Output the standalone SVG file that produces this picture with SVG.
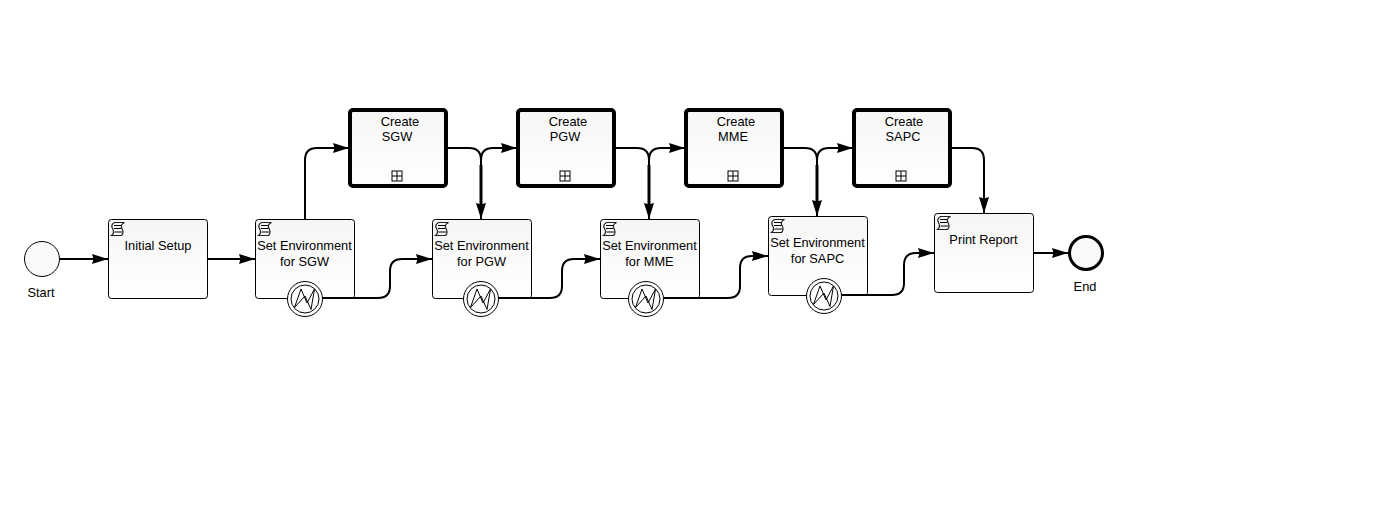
<svg xmlns="http://www.w3.org/2000/svg" width="1394" height="521" viewBox="0 0 1394 521">
<style>
text{font-family:"Liberation Sans",Arial,sans-serif;font-size:12.800px;fill:#000;text-anchor:middle}
.task{fill:url(#g);stroke:#000;stroke-width:1}
.sub{fill:url(#g);stroke:#000;stroke-width:4}
.flow{fill:none;stroke:#000;stroke-width:2;marker-end:url(#arrow)}
.stem{fill:none;stroke:#000;stroke-width:3}
.thin{fill:none;stroke:#000;stroke-width:1}
.script{fill:#f8f8f8;stroke:#222;stroke-width:1.200}
</style>
<defs>
<linearGradient id="g" x1="0" y1="0" x2="0" y2="1"><stop offset="0" stop-color="#f6f6f6"/><stop offset="1" stop-color="#fff"/></linearGradient>
<marker id="arrow" markerUnits="userSpaceOnUse" markerWidth="18" markerHeight="14" refX="16" refY="7" orient="auto"><path d="M0 2 L16 7 L0 12 L1.500 7 Z" fill="#000"/></marker>
<g id="scriptIcon"><path class="script" d="M3.500 0.500 H13.500 C10.500 2 9.500 4 11 6.500 C12.500 9 12.500 11.500 10.500 13.500 H0.500 C3 11.500 3 9 1.500 6.500 C0 4 1 2 3.500 0.500 Z"/><path class="thin" d="M3 3.500 H10 M3 6.500 H10.500 M3.500 10 H11.500"/></g>
<g id="timer"><circle r="17.500" fill="#fff" stroke="#000"/><circle r="14" fill="#fff" stroke="#000"/><path class="thin" d="M-10.500 8.500 L-4 -10 L2 4 L9.500 -10 L6 10.500 L0 -3 Z"/></g>
<g id="plus"><rect x="-5" y="-5" width="10" height="10" fill="#fff" stroke="#000"/><path class="thin" d="M0 -5 V5 M-5 0 H5"/></g>
</defs>
<rect width="1394" height="521" fill="#fff"/>
<g id="start"><circle cx="42" cy="259" r="17.500" fill="#f9f9f9" stroke="#000"/><text x="41" y="297">Start</text></g>
<g id="initial-setup"><rect class="task" x="108.500" y="219.500" width="99" height="79" rx="3"/><use href="#scriptIcon" x="111" y="222"/><text x="158" y="250">Initial Setup</text></g>
<g id="env-sgw"><rect class="task" x="255.500" y="219.500" width="99" height="79" rx="3"/><use href="#scriptIcon" x="258" y="222"/><text x="304.500" y="250">Set Environment</text><text x="304.500" y="266">for SGW</text><use href="#timer" x="305" y="299"/></g>
<g id="create-sgw"><rect class="sub" x="350" y="110" width="96" height="76" rx="3"/><text x="400" y="126">Create</text><text x="397" y="141">SGW</text><use href="#plus" x="397" y="176"/></g>
<g id="env-pgw"><rect class="task" x="432.500" y="219.500" width="99" height="79" rx="3"/><use href="#scriptIcon" x="435" y="222"/><text x="481.500" y="250">Set Environment</text><text x="481.500" y="266">for PGW</text><use href="#timer" x="481" y="299"/></g>
<g id="create-pgw"><rect class="sub" x="518" y="110" width="96" height="76" rx="3"/><text x="568" y="126">Create</text><text x="565" y="141">PGW</text><use href="#plus" x="565" y="176"/></g>
<g id="env-mme"><rect class="task" x="600.500" y="219.500" width="99" height="79" rx="3"/><use href="#scriptIcon" x="603" y="222"/><text x="649.500" y="250">Set Environment</text><text x="649.500" y="266">for MME</text><use href="#timer" x="646" y="299"/></g>
<g id="create-mme"><rect class="sub" x="686" y="110" width="96" height="76" rx="3"/><text x="736" y="126">Create</text><text x="733" y="141">MME</text><use href="#plus" x="733" y="176"/></g>
<g id="env-sapc"><rect class="task" x="768.500" y="216.500" width="99" height="79" rx="3"/><use href="#scriptIcon" x="771" y="219"/><text x="817.500" y="247">Set Environment</text><text x="817.500" y="263">for SAPC</text><use href="#timer" x="824" y="296"/></g>
<g id="create-sapc"><rect class="sub" x="854" y="110" width="96" height="76" rx="3"/><text x="904" y="126">Create</text><text x="903" y="141">SAPC</text><use href="#plus" x="901" y="176"/></g>
<g id="print-report"><rect class="task" x="934.500" y="213.500" width="99" height="79" rx="3"/><use href="#scriptIcon" x="937" y="216"/><text x="983.500" y="244">Print Report</text></g>
<g id="end"><circle cx="1086" cy="253" r="16.500" fill="#f9f9f9" stroke="#000" stroke-width="3"/><text x="1085" y="291">End</text></g>
<g id="connectors">
<path class="flow" d="M60 259 H108"/>
<path class="flow" d="M208 259 H255"/>
<path class="flow" d="M305 219 V160 Q305 148 317 148 H349"/>
<path class="flow" d="M448 148 H469 Q481 148 481 160 V219"/>
<path class="flow" d="M481 172 V160 Q481 148 493 148 H517"/>
<path class="stem" d="M481 165 V210"/>
<path class="flow" d="M616 148 H637 Q649 148 649 160 V219"/>
<path class="flow" d="M649 172 V160 Q649 148 661 148 H685"/>
<path class="stem" d="M649 165 V210"/>
<path class="flow" d="M784 148 H805 Q817 148 817 160 V216"/>
<path class="flow" d="M817 172 V160 Q817 148 829 148 H853"/>
<path class="stem" d="M817 165 V207"/>
<path class="flow" d="M952 148 H972 Q984 148 984 160 V213"/>
<path class="flow" d="M323 298 H378 Q390 298 390 286 V271 Q390 259 402 259 H432"/>
<path class="flow" d="M499 298 H550 Q562 298 562 286 V271 Q562 259 574 259 H600"/>
<path class="flow" d="M664 298 H728 Q740 298 740 286 V268 Q740 256 752 256 H768"/>
<path class="flow" d="M842 295 H892 Q904 295 904 283 V265 Q904 253 916 253 H934"/>
<path class="flow" d="M1034 253 H1068"/>
</g>
</svg>
